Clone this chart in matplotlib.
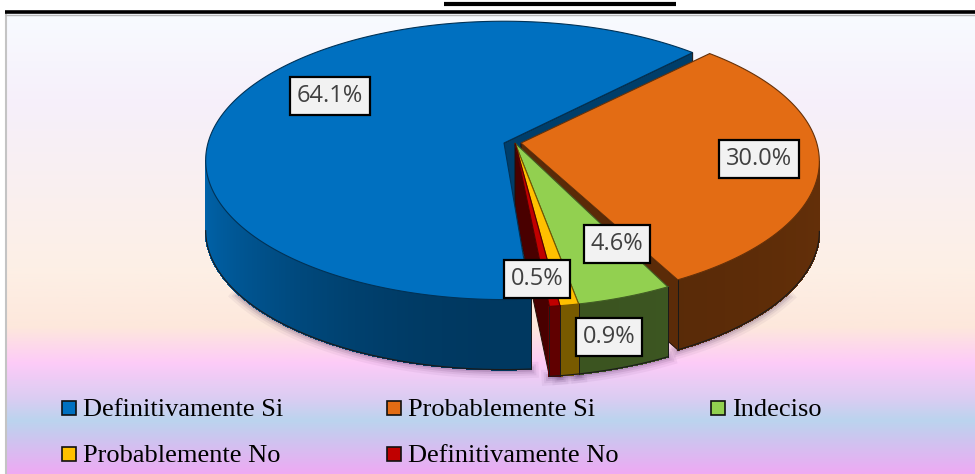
import numpy as np
import matplotlib
matplotlib.use('Agg')
import matplotlib.pyplot as plt
from matplotlib.colors import LinearSegmentedColormap

categories = ['Definitivamente Si', 'Probablemente Si', 'Indeciso', 'Probablemente No', 'Definitivamente No']
values = [64.1, 30.0, 4.6, 0.9, 0.5]
pct_labels = ['64.1%', '30.0%', '4.6%', '0.9%', '0.5%']
colors = ['#0070c0', '#e36c14', '#92d050', '#ffc000', '#c00000']

# style for each slice: apex, shift of the rim, wall shade near/far, label centre
centres = [(504, 143), (521, 143), (515, 143), (515, 143), (515, 143)]
rim_shift = [(0, 0), (0, 1), (-4, 8), (-4, 8), (-4, 8)]
wall_shade = [(0.50, 0.88), (0.38, 0.44), (0.40, 0.46), (0.47, 0.47), (0.50, 0.50)]
label_pos = [(330, 96), (759, 159), (617, 244), (609, 337), (537, 279)]
bg_stops = [(0.0, '#f8fbff'), (0.2, '#f6effa'), (0.55, '#fdf0e6'), (0.68, '#fde8dc'),
            (0.76, '#fdcbf8'), (0.84, '#d9cdf2'), (0.885, '#bbd4ee'), (1.0, '#eeaaf3')]

R = 296
S = 137
K = 0.125
DEPTH = 70
START = 44.0  # blue ends here, orange starts here
BLUE_GAP = 2.0  # blue pulled away from the red slice


def rim(i, theta):
    t = np.radians(theta)
    u = np.sin(t)
    v = np.cos(t)
    w = 1 + K * v
    return (centres[i][0] + rim_shift[i][0] + R * u / w,
            centres[i][1] + rim_shift[i][1] - S * v / w)


def darker(col, f):
    return tuple(c * f for c in matplotlib.colors.to_rgb(col))


fig = plt.figure(figsize=(9.75, 4.74), dpi=100)
ax = fig.add_axes([0, 0, 1, 1])
ax.set_xlim(0, 975)
ax.set_ylim(474, 0)
ax.axis('off')

cmap = LinearSegmentedColormap.from_list('bg', bg_stops)
ax.imshow(np.linspace(0, 1, 256).reshape(-1, 1), cmap=cmap, aspect='auto',
          extent=[7, 975, 474, 14], zorder=0)
ax.set_xlim(0, 975)
ax.set_ylim(474, 0)
ax.plot([6, 6], [14, 474], color='#c4c4c4', lw=1.5, zorder=1)
ax.plot([5, 975], [12, 12], color='black', lw=2.6, solid_capstyle='butt', zorder=5)
ax.plot([5, 975], [14.5, 14.5], color='#b8b8b8', lw=1, solid_capstyle='butt', zorder=4)
ax.plot([444, 676], [4, 4], color='black', lw=3, solid_capstyle='butt', zorder=5)

# slice angles, clockwise from orange's start, blue wraps around
spans = [v / sum(values) * 360 for v in values]
ang = {}
a = START
for i in [1, 2, 3, 4]:
    ang[i] = (a, a + spans[i])
    a += spans[i]
ang[0] = (a + BLUE_GAP, a + spans[0])


def draw_top(i, z):
    th = np.linspace(ang[i][0], ang[i][1], max(int(spans[i] * 2), 6))
    x, y = rim(i, th)
    ax.fill(np.r_[centres[i][0], x], np.r_[centres[i][1], y], facecolor=colors[i],
            edgecolor=darker(colors[i], 0.45), lw=0.8, joinstyle='miter', zorder=z)


def draw_cut(i, theta, f, z):
    cx, cy = centres[i]
    rx, ry = rim(i, theta)
    ax.fill([cx, rx, rx, cx], [cy, ry, ry + DEPTH, cy + DEPTH], facecolor=darker(colors[i], f),
            edgecolor='#201008', lw=0.7, zorder=z)


def draw_wall(i, z):
    lo, hi = wall_shade[i]
    th = np.linspace(ang[i][0], ang[i][1], max(int(spans[i] * 2), 3) + 1)
    # only the part of the rim facing the viewer gets a wall
    th = th[np.cos(np.radians(th)) < -K]
    for t0, t1 in zip(th[:-1], th[1:]):
        x0, y0 = rim(i, t0)
        x1, y1 = rim(i, t1)
        shade = lo + (hi - lo) * abs(np.sin(np.radians((t0 + t1) / 2))) ** 2
        c = darker(colors[i], shade)
        ax.fill([x0, x1, x1, x0], [y0, y1, y1 + DEPTH, y0 + DEPTH], facecolor=c, edgecolor=c, lw=0.8,
                antialiased=False, zorder=z)
    x, y = rim(i, th)
    ax.plot(x, y + DEPTH, color='#1a1a1a', lw=0.8, zorder=z)
    if i != 0:
        ax.plot([x[-1], x[-1]], [y[-1], y[-1] + DEPTH], color='#1a1a1a', lw=0.7, zorder=z)
    if i != 1:
        ax.plot([x[0], x[0]], [y[0], y[0] + DEPTH], color='#1a1a1a', lw=0.7, zorder=z)


# soft shadow under the front of the pie
for i in range(5):
    th = np.linspace(ang[i][0], ang[i][1], 200)
    th = th[np.cos(np.radians(th)) < -0.55]
    x, y = rim(i, th)
    for lw, al in [(16, 0.05), (11, 0.07), (7, 0.1), (3, 0.15)]:
        ax.plot(x, y + DEPTH + 1, color='#3a1a50', lw=lw * 0.72, alpha=al, zorder=2)

draw_cut(0, ang[0][1], 0.55, 5.2)   # blue face seen next to orange
draw_cut(1, ang[1][1], 0.40, 5.5)   # orange face, blue and green lie over its inner end
draw_cut(4, ang[4][1], 0.38, 6)     # red face seen next to blue
draw_wall(0, 8)
draw_top(0, 9)
draw_wall(1, 11)
draw_top(1, 12)
draw_wall(2, 13)
draw_top(2, 14)
draw_wall(3, 15)
draw_top(3, 16)
draw_wall(4, 17)
draw_top(4, 18)

for i in range(5):
    ax.text(label_pos[i][0], label_pos[i][1], pct_labels[i], ha='center', va='center', color='#404040',
            fontsize=17, family='Open Sans', zorder=30,
            bbox=dict(boxstyle='square,pad=0.3', facecolor='#f2f2f2', edgecolor='black', lw=1.6))

# legend, filled row by row
col_x = [69, 394, 718]
row_y = [408, 454]
for i, name in enumerate(categories):
    lx = col_x[i % 3]
    ly = row_y[i // 3]
    ax.plot([lx], [ly], marker='s', ms=9.5, mfc=colors[i], mec='#111111', mew=1.2, ls='none', zorder=30)
    ax.text(lx + 14, ly + 1.5, name, ha='left', va='center', fontsize=19, family='Liberation Serif',
            color='black', zorder=30)

fig.savefig('out.png', dpi=100)
